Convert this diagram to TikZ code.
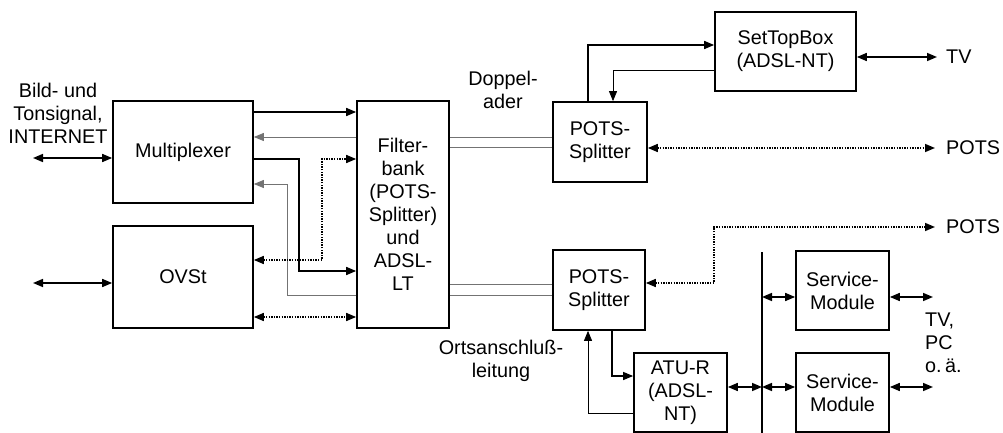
\documentclass[tikz,border=0pt]{standalone}
\usepackage{fontspec}
\setmainfont{Liberation Sans}
\usetikzlibrary{arrows.meta}
\begin{document}
\begin{tikzpicture}[x=1pt,y=-1pt,
  >={Triangle[length=10pt,width=8pt]},
  every node/.style={font=\fontsize{19.8}{23}\selectfont},
  blk/.style={draw,line width=1.7pt,inner sep=0pt,align=center},
  lbl/.style={inner sep=0pt,align=center},
  thk/.style={line width=1.6pt},
  med/.style={line width=1.2pt},
  thn/.style={line width=0.8pt},
  gry/.style={line width=0.8pt,draw=black!55},
  dts/.style={line width=1.6pt,dash pattern=on 1.3pt off 1.3pt}]
\useasboundingbox (0,0) rectangle (1003,433);
% boxes
\node[blk,minimum width=140pt,minimum height=102pt] (mux) at (183,152) {Multiplexer};
\node[blk,minimum width=140pt,minimum height=102pt] (ovst) at (183,277) {OVSt};
\node[blk,minimum width=92pt,minimum height=227pt] (filt) at (403,214.5) {Filter-\\bank\\(POTS-\\Splitter)\\und\\ADSL-\\LT};
\node[blk,minimum width=94pt,minimum height=80pt] (pots1) at (600,142) {POTS-\\Splitter};
\node[blk,minimum width=141pt,minimum height=79pt] (stb) at (785.5,51.5) {SetTopBox\\(ADSL-NT)};
\node[blk,minimum width=92pt,minimum height=80pt] (pots2) at (599,290) {POTS-\\Splitter};
\node[blk,minimum width=93pt,minimum height=79pt] (atu) at (680.5,392.5) {ATU-R\\(ADSL-\\NT)};
\node[blk,minimum width=93pt,minimum height=79pt] (sm1) at (842.5,290.5) {Service-\\Module};
\node[blk,minimum width=93pt,minimum height=79pt] (sm2) at (842.5,392.5) {Service-\\Module};
% bus
\coordinate (busT) at (762,252);
\coordinate (busB) at (762,433);
\draw[thk] (busT) -- (busB);
% labels
\node[lbl] (src) at (58,113) {Bild- und\\Tonsignal,\\INTERNET};
\node[lbl] (dop) at (503,90) {Doppel-\\ader};
\node[lbl] (orts) at (501,361) {Ortsanschluß-\\leitung};
\node[lbl,anchor=west] (tv) at (946,57) {TV};
\node[lbl,anchor=west] (pa) at (946,148) {POTS};
\node[lbl,anchor=west] (pb) at (946,227) {POTS};
\node[lbl,anchor=west,align=left] (tvpc) at (925,343) {TV,\\PC\\o.\,ä.};
% left endpoints
\coordinate (l1) at (33,158);
\coordinate (l2) at (33,283);
\draw[thk,<->] (l1) -- (mux.west |- l1);
\draw[thk,<->] (l2) -- (ovst.west |- l2);
% mux/ovst to filterbank
\draw[thk,->] (mux.east |- 0,112) -- (filt.west |- 0,112);
\draw[gry,->] (filt.west |- 0,137) -- (mux.east |- 0,137);
\draw[thk,->] (mux.east |- 0,159) -- (299,159) -- (299,271) -- (filt.west |- 0,271);
\draw[gry,->] (filt.west |- 0,295) -- (287,295) -- (287,184) -- (mux.east |- 0,184);
\draw[dts,<->] (ovst.east |- 0,260) -- (322,260) -- (322,159) -- (filt.west |- 0,159);
\draw[dts,<->] (ovst.east |- 0,317) -- (filt.west |- 0,317);
% double wires
\draw[gry] (filt.east |- 0,137) -- (pots1.west |- 0,137);
\draw[gry] (filt.east |- 0,147) -- (pots1.west |- 0,147);
\draw[gry] (filt.east |- 0,284) -- (pots2.west |- 0,284);
\draw[gry] (filt.east |- 0,295) -- (pots2.west |- 0,295);
% upper splitter
\draw[thk,->] (pots1.north -| 588,0) -- (588,45) -- (stb.west |- 0,45);
\draw[thn,->] (stb.west |- 0,70) -- (613,70) -- (pots1.north -| 613,0);
\coordinate (tvE) at (937,57);
\draw[thk,<->] (stb.east |- tvE) -- (tvE);
\coordinate (paE) at (935,148);
\draw[dts,<->] (pots1.east |- paE) -- (paE);
% lower splitter
\coordinate (pbE) at (935,227);
\draw[dts,<->] (pots2.east |- 0,283) -- (714,283) -- (714,227) -- (pbE);
\draw[med,->] (pots2.south -| 612,0) -- (612,376) -- (atu.west |- 0,376);
\draw[thn,->] (atu.west |- 0,413) -- (588,413) -- (pots2.south -| 588,0);
% bus connections
\draw[thk,<->] (atu.east |- 0,387) -- (busT |- 0,387);
\draw[thk,<->] (busT |- 0,297) -- (sm1.west |- 0,297);
\draw[thk,<->] (busT |- 0,387) -- (sm2.west |- 0,387);
\coordinate (s1E) at (933,297);
\coordinate (s2E) at (933,387);
\draw[thk,<->] (sm1.east |- s1E) -- (s1E);
\draw[thk,<->] (sm2.east |- s2E) -- (s2E);
\end{tikzpicture}
\end{document}
